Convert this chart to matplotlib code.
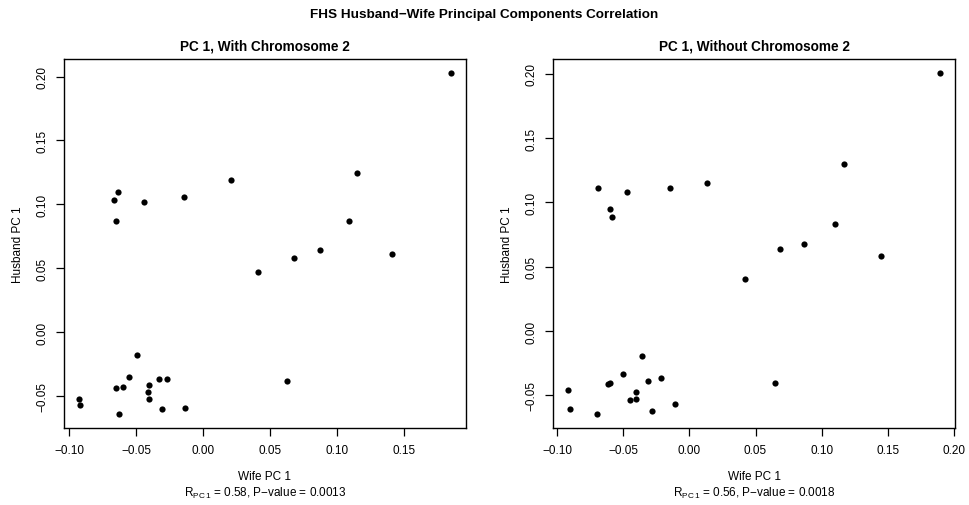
import matplotlib
matplotlib.use("Agg")
import matplotlib.pyplot as plt

plt.rcParams['font.family'] = ['Liberation Sans', 'DejaVu Sans']
plt.rcParams['mathtext.fontset'] = 'custom'
plt.rcParams['mathtext.rm'] = 'Liberation Sans'
plt.rcParams['mathtext.it'] = 'Liberation Sans'
plt.rcParams['axes.unicode_minus'] = True

# Panel 1: with chromosome 2
wife_with = [0.1853, 0.1152, 0.0209, -0.0139, -0.0440, -0.0639, -0.0669, -0.0647,
             0.1090, 0.0871, 0.1410, 0.0681, 0.0413, 0.0624, -0.0493, -0.0557,
             -0.0326, -0.0266, -0.0405, -0.0599, -0.0652, -0.0410, -0.0405, -0.0928,
             -0.0916, -0.0629, -0.0306, -0.0132]
husband_with = [0.2030, 0.1245, 0.1193, 0.1054, 0.1018, 0.1099, 0.1031, 0.0872,
                0.0872, 0.0642, 0.0614, 0.0577, 0.0470, -0.0378, -0.0180, -0.0347,
                -0.0362, -0.0368, -0.0409, -0.0430, -0.0438, -0.0470, -0.0524, -0.0521,
                -0.0568, -0.0642, -0.0597, -0.0592]

# Panel 2: without chromosome 2
wife_without = [0.1897, 0.1168, 0.0133, -0.0144, -0.0469, -0.0691, -0.0605, -0.0587,
                0.1103, 0.0866, 0.0682, 0.1451, 0.0420, 0.0647, -0.0360, -0.0506,
                -0.0215, -0.0313, -0.0602, -0.0615, -0.0401, -0.0920, -0.0449, -0.0404,
                -0.0907, -0.0703, -0.0283, -0.0109]
husband_without = [0.2008, 0.1296, 0.1150, 0.1114, 0.1078, 0.1114, 0.0948, 0.0889,
                   0.0834, 0.0676, 0.0637, 0.0586, 0.0404, -0.0406, -0.0194, -0.0331,
                   -0.0368, -0.0391, -0.0406, -0.0414, -0.0474, -0.0458, -0.0536, -0.0528,
                   -0.0603, -0.0647, -0.0624, -0.0564]

xticks_with = [-0.10, -0.05, 0.00, 0.05, 0.10, 0.15]
xticks_without = [-0.10, -0.05, 0.00, 0.05, 0.10, 0.15, 0.20]
yticks = [-0.05, 0.00, 0.05, 0.10, 0.15, 0.20]

titles = ["PC 1, With Chromosome 2", "PC 1, Without Chromosome 2"]
r_values = ["0.58", "0.56"]
p_values = ["0.0013", "0.0018"]
suptitle = "FHS Husband\u2212Wife Principal Components Correlation"
xlabel = "Wife PC 1"
ylabel = "Husband PC 1"

W, H = 969, 506
fig = plt.figure(figsize=(W / 100, H / 100), dpi=100)

panels = [
    (wife_with, husband_with, xticks_with, 64),
    (wife_without, husband_without, xticks_without, 553),
]

def fmt(v):
    s = f"{v:.2f}"
    return s.replace("-", "\u2212")

for i, (xs, ys, xt, left_px) in enumerate(panels):
    ax = fig.add_axes([left_px / W, (H - 429) / H, 402 / W, 369 / H])
    ax.scatter(xs, ys, s=20, color='black', linewidths=0)
    ax.margins(0.04)
    ax.set_xticks(xt)
    ax.set_xticklabels([fmt(v) for v in xt])
    ax.set_yticks(yticks)
    ax.set_yticklabels([fmt(v) for v in yticks], rotation=90, va='center')
    ax.tick_params(direction='out', length=6, width=0.9, labelsize=8.5, pad=5.5, color='black')
    for sp in ax.spines.values():
        sp.set_linewidth(1.0)
        sp.set_color('black')
    ax.set_title(titles[i], fontsize=9.8, fontweight='bold', pad=7)
    ax.set_xlabel(xlabel, fontsize=8.5, labelpad=10)
    ax.set_ylabel(ylabel, fontsize=8.5, labelpad=9)
    ax.text(0.5, -0.175, r"R$_{\mathrm{PC\,1}}$" + f" = {r_values[i]}, P\u2212value = {p_values[i]}",
            transform=ax.transAxes, ha='center', va='center', fontsize=8.5)

fig.text(0.5, 1 - 15 / H, suptitle, ha='center', va='center', fontsize=9.7, fontweight='bold')

fig.savefig("out.png", dpi=100)
